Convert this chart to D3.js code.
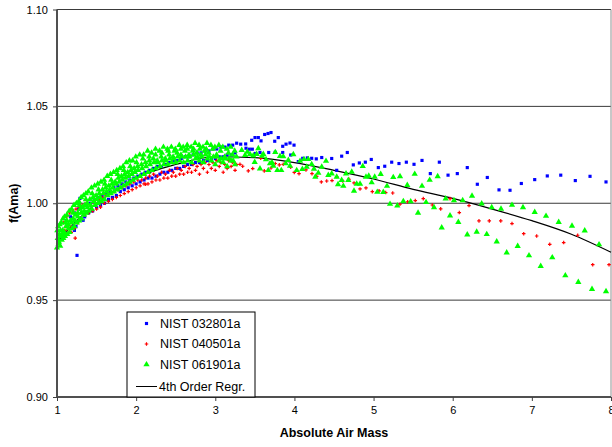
<!DOCTYPE html>
<html><head><meta charset="utf-8">
<script src="https://cdn.jsdelivr.net/npm/d3@7"></script>
<style>body{margin:0;background:#fff}svg{display:block;font-family:"Liberation Sans",Arial,sans-serif}</style>
</head><body><svg id="c" width="612" height="447"></svg>
<script>
const xTicks = [1,2,3,4,5,6,7,8];
const yTicks = [0.90,0.95,1.00,1.05,1.10];
const seriesNames = ["NIST 032801a","NIST 040501a","NIST 061901a","4th Order Regr."];
const xTitle = "Absolute Air Mass";
const yTitle = "f(Ama)";

const blue = [
[1.10,0.985],[1.12,0.991],[1.15,0.987],[1.17,0.993],[1.20,0.988],[1.22,0.995],[1.25,0.990],[1.27,0.997],
[1.30,0.992],[1.32,0.998],[1.35,0.993],[1.37,0.999],[1.40,0.995],[1.42,1.000],[1.45,0.996],[1.47,1.002],
[1.50,0.998],[1.52,1.003],[1.55,0.999],[1.57,1.004],[1.60,1.000],[1.62,1.005],[1.65,1.002],[1.67,1.006],
[1.70,1.003],[1.72,1.008],[1.75,1.004],[1.77,1.009],[1.80,1.006],[1.82,1.010],[1.85,1.007],[1.87,1.011],
[1.90,1.008],[1.92,1.012],[1.95,1.009],[1.97,1.013],[2.00,1.010],[2.02,1.014],[2.05,1.011],[2.07,1.015],
[2.10,1.012],[2.12,1.016],[2.15,1.013],[2.17,1.017],[2.20,1.013],[2.22,1.018],[2.25,1.014],[2.27,1.019],
[2.30,1.015],[2.32,1.019],[2.35,1.016],[2.37,1.020],[2.40,1.016],[2.42,1.021],[2.45,1.017],[2.47,1.022],
[2.50,1.018],[2.52,1.022],[2.55,1.018],[2.57,1.023],[2.60,1.019],[2.62,1.024],[2.65,1.020],[2.67,1.024],
[2.70,1.020],[2.72,1.025],[2.75,1.021],[2.77,1.026],[2.80,1.021],[2.82,1.026],[2.85,1.022],[2.87,1.027],
[2.90,1.022],[2.92,1.027],[2.95,1.023],[2.97,1.028],[3.00,1.023],[3.02,1.028],[3.05,1.024],[3.07,1.029],
[3.10,1.024],[3.12,1.029],[3.15,1.025],[3.17,1.030],[3.20,1.025],[3.22,1.030],[3.25,1.026],[3.27,1.031],
[1.253,0.9731],[1.29,1.0025],[1.33,0.9912],[1.22,0.986],[1.24,0.988],
[3.321,1.0305],[3.384,1.0306],[3.460,1.0325],[3.502,1.0339],[3.544,1.0339],[3.578,1.0322],[3.624,1.0355],
[3.666,1.0360],[3.704,1.0365],[3.751,1.0320],[3.796,1.0339],[3.852,1.0294],[3.894,1.0305],[3.944,1.0311],
[3.995,1.0300],[3.388,1.0284],[3.430,1.0279],[3.468,1.0279],[3.506,1.0257],[3.565,1.0262],[3.675,1.0262],
[3.758,1.0263],[3.852,1.0262],[3.953,1.0249],[4.049,1.0215],[4.105,1.0232],[4.163,1.0234],[4.218,1.0232],
[4.276,1.0229],[4.345,1.0236],[4.471,1.0231],[4.534,1.0170],[4.597,1.0243],[4.668,1.0262],[4.744,1.0198],
[4.820,1.0208],[4.896,1.0212],[4.971,1.0226],[5.060,1.0184],[5.141,1.0191],[5.229,1.0212],[5.321,1.0205],
[5.414,1.0212],[5.511,1.0201],[5.612,1.0221],[5.717,1.0153],[5.831,1.0212],[5.941,1.0145],[6.058,1.0153],
[6.184,1.0184],[6.311,1.0098],[6.437,1.0133],[6.585,1.0069],[6.724,1.0067],[6.867,1.0102],[7.036,1.0122],
[7.195,1.0141],[7.365,1.0145],[7.549,1.0117],[7.735,1.0139],[7.937,1.0110]
];

const red = [
[1.06,0.984],[1.08,0.990],[1.10,0.986],[1.12,0.993],[1.14,0.985],[1.16,0.995],[1.18,0.988],[1.20,0.996],
[1.22,0.987],[1.24,0.997],[1.26,0.990],[1.28,0.998],[1.30,0.992],[1.32,0.999],[1.35,0.994],[1.37,1.000],
[1.40,0.995],[1.42,0.999],[1.45,0.996],[1.47,1.001],[1.50,0.997],[1.52,1.002],[1.55,0.998],[1.57,1.003],
[1.60,1.000],[1.62,1.004],[1.65,1.001],[1.67,1.005],[1.70,1.002],[1.72,1.006],[1.75,1.003],[1.77,1.007],
[1.80,1.004],[1.82,1.008],[1.85,1.005],[1.87,1.009],[1.90,1.006],[1.92,1.010],[1.95,1.007],[1.97,1.011],
[2.00,1.008],[2.02,1.012],[2.05,1.009],[2.07,1.012],[2.10,1.010],[2.12,1.013],[2.15,1.010],[2.17,1.014],
[2.20,1.011],[2.22,1.015],[2.25,1.012],[2.27,1.014],[2.30,1.012],[2.32,1.016],[2.35,1.013],[2.37,1.015],
[2.40,1.013],[2.42,1.017],[2.45,1.014],[2.47,1.016],[2.50,1.014],[2.52,1.018],[2.55,1.015],[2.57,1.017],
[2.60,1.015],[2.62,1.019],[2.65,1.016],[2.67,1.018],[2.70,1.016],[2.72,1.020],[2.75,1.017],[2.77,1.019],
[2.80,1.015],[2.82,1.020],[2.85,1.018],[2.87,1.021],[2.90,1.016],[2.92,1.020],[2.95,1.018],[2.97,1.021],
[3.00,1.017],[3.02,1.022],[3.05,1.019],[3.07,1.021],[3.10,1.016],[3.12,1.020],[3.15,1.018],[3.17,1.022],
[3.20,1.019],[3.22,1.021],[3.25,1.017],[3.27,1.020],[1.23,0.982],[1.18,0.985],[2.12,1.0098],
[3.312,1.0201],[3.346,1.0191],[3.417,1.0167],[3.473,1.0179],[3.574,1.0232],[3.619,1.0167],[3.704,1.0182],
[3.758,1.0205],[3.809,1.0198],[3.859,1.0201],[3.953,1.0186],[3.998,1.0159],[4.058,1.0153],[4.146,1.0172],
[4.222,1.0153],[4.281,1.0139],[4.340,1.0110],[4.408,1.0115],[4.475,1.0117],[4.534,1.0138],[4.610,1.0115],
[4.690,1.0124],[4.753,1.0105],[4.829,1.0074],[4.904,1.0079],[4.984,1.0060],[5.069,1.0064],[5.153,1.0055],
[5.242,1.0053],[5.334,0.9995],[5.431,1.0007],[5.527,1.0014],[5.628,1.0024],[5.742,0.9991],[5.848,0.9971],
[5.966,1.0024],[6.083,0.9952],[6.206,0.9988],[6.332,0.9909],[6.462,0.9909],[6.607,0.9909],[6.749,0.9895],
[6.897,0.9843],[7.061,0.9831],[7.226,0.9788],[7.402,0.9797],[7.579,0.9835],[7.769,0.9683],[7.975,0.9683]
];

const green = [
[1.00,0.977],[1.01,0.982],[1.005,0.986],[1.02,0.979],[1.03,0.984],[1.015,0.988],
[1.04,0.978],[1.05,0.983],[1.035,0.989],[1.06,0.981],[1.072,0.986],[1.055,0.990],
[1.08,0.982],[1.092,0.985],[1.075,0.992],[1.10,0.983],[1.113,0.988],[1.095,0.993],
[1.13,0.984],[1.143,0.989],[1.125,0.994],[1.16,0.985],[1.172,0.991],[1.155,0.996],
[1.19,0.987],[1.203,0.992],[1.185,0.997],[1.22,0.988],[1.234,0.994],[1.215,0.999],
[1.25,0.990],[1.262,0.995],[1.245,1.000],[1.28,0.991],[1.293,0.997],[1.275,1.001],
[1.31,0.992],[1.324,0.998],[1.305,1.003],[1.34,0.994],[1.352,0.999],[1.335,1.004],
[1.37,0.995],[1.383,1.000],[1.365,1.005],[1.40,0.996],[1.415,1.002],[1.395,1.006],
[1.44,0.997],[1.455,1.003],[1.435,1.008],[1.48,0.999],[1.494,1.004],[1.475,1.009],
[1.52,1.000],[1.534,1.005],[1.515,1.010],[1.56,1.001],[1.575,1.007],[1.555,1.011],
[1.60,1.002],[1.615,1.008],[1.595,1.012],[1.64,1.004],[1.655,1.009],[1.635,1.014],
[1.68,1.005],[1.694,1.010],[1.675,1.015],[1.72,1.006],[1.735,1.011],[1.715,1.016],
[1.76,1.007],[1.775,1.013],[1.755,1.017],[1.80,1.008],[1.815,1.014],[1.795,1.018],
[1.84,1.009],[1.855,1.015],[1.835,1.019],[1.88,1.010],[1.894,1.016],[1.875,1.021],
[1.92,1.011],[1.935,1.017],[1.915,1.022],[1.96,1.012],[1.975,1.018],[1.955,1.022],
[2.00,1.013],[2.018,1.019],[1.995,1.024],[2.05,1.014],[2.068,1.020],[2.045,1.025],
[2.10,1.015],[2.118,1.021],[2.095,1.025],[2.15,1.016],[2.167,1.022],[2.145,1.027],
[2.20,1.017],[2.218,1.023],[2.195,1.026],[2.25,1.018],[2.266,1.022],[2.245,1.028],
[2.30,1.019],[2.317,1.024],[2.295,1.027],[2.35,1.020],[2.368,1.023],[2.345,1.029],
[2.40,1.020],[2.416,1.025],[2.395,1.028],[2.45,1.021],[2.467,1.024],[2.445,1.029],
[2.50,1.021],[2.518,1.026],[2.495,1.028],[2.55,1.022],[2.566,1.025],[2.545,1.030],
[2.60,1.021],[2.617,1.027],[2.595,1.029],[2.65,1.022],[2.668,1.025],[2.645,1.030],
[2.70,1.021],[2.716,1.027],[2.695,1.029],[2.75,1.023],[2.767,1.026],[2.745,1.031],
[2.80,1.022],[2.818,1.025],[2.795,1.030],[2.85,1.021],[2.866,1.027],[2.845,1.029],
[2.90,1.023],[2.917,1.026],[2.895,1.031],[2.95,1.022],[2.968,1.028],[2.945,1.030],
[3.00,1.020],[3.016,1.025],[2.995,1.029],[3.05,1.022],[3.067,1.027],[3.045,1.030],
[3.10,1.021],[3.118,1.024],[3.095,1.029],[3.15,1.019],[3.166,1.026],[3.145,1.028],
[3.20,1.022],[3.217,1.025],[3.195,1.029],[3.25,1.020],[3.268,1.024],[3.245,1.027],
[1.025,0.980],[1.065,0.984],[1.105,0.990],[1.145,0.987],[1.185,0.990],[1.225,0.991],[1.265,0.993],[1.305,0.995],
[1.345,0.996],[1.385,0.998],[1.425,0.999],[1.465,1.001],[1.505,1.002],[1.545,1.003],[1.585,1.005],[1.625,1.006],
[1.665,1.007],[1.705,1.008],[1.745,1.010],[1.785,1.011],[1.825,1.012],[1.865,1.013],[1.905,1.014],[1.945,1.015],
[1.985,1.016],[2.025,1.017],[2.075,1.018],[2.125,1.019],[2.175,1.020],[2.225,1.021],[2.275,1.021],[2.325,1.022],
[2.375,1.022],[2.425,1.023],[2.475,1.023],[2.525,1.024],[2.575,1.024],[2.625,1.024],[2.675,1.024],[2.725,1.025],
[2.775,1.024],[2.825,1.024],[2.875,1.025],[2.925,1.024],[2.975,1.024],[3.025,1.024],[3.075,1.023],[3.125,1.023],
[3.175,1.023],[3.225,1.022],
[1.045,0.986],[1.125,0.991],[1.205,0.995],[1.285,0.999],[1.365,1.002],[1.445,1.005],[1.525,1.007],[1.605,1.010],
[1.685,1.012],[1.765,1.015],[1.845,1.017],[1.925,1.019],[2.005,1.021],[2.085,1.023],[2.165,1.024],[2.245,1.025],
[2.325,1.026],[2.405,1.027],[2.485,1.027],[2.565,1.028],[2.645,1.028],[2.725,1.028],[2.805,1.028],[2.885,1.028],
[3.334,1.0274],[3.376,1.0248],[3.405,1.0265],[3.439,1.0253],[3.480,1.0246],[3.498,1.0212],[3.523,1.0253],[3.544,1.0283],
[3.565,1.0179],[3.590,1.0244],[3.607,1.0253],[3.641,1.0226],[3.670,1.0170],[3.691,1.0205],[3.717,1.0210],[3.733,1.0193],
[3.758,1.0263],[3.784,1.0170],[3.818,1.0243],[3.834,1.0170],[3.859,1.0241],[3.890,1.0205],[3.923,1.0222],[3.944,1.0193],
[3.986,1.0252],[4.029,1.0170],[4.071,1.0218],[4.100,1.0176],[4.121,1.0227],[4.155,1.0188],[4.175,1.0227],[4.218,1.0201],
[4.247,1.0177],[4.264,1.0136],[4.302,1.0157],[4.345,1.0188],[4.399,1.0218],[4.428,1.0145],[4.471,1.0153],[4.534,1.0136],
[4.551,1.0097],[4.597,1.0119],[4.652,1.0153],[4.681,1.0119],[4.724,1.0162],[4.618,1.0089],[4.753,1.0064],[4.787,1.0100],
[4.829,1.0100],[4.863,1.0191],[4.904,1.0136],[4.939,1.0141],[4.976,1.0107],[5.014,1.0136],[5.047,1.0058],[5.090,1.0150],
[5.123,1.0057],[5.170,1.0089],[5.208,0.9996],[5.249,1.0134],[5.300,0.9988],[5.334,1.0139],[5.376,1.0010],[5.426,1.0093],
[5.469,1.0009],[5.520,1.0151],[5.562,0.9950],[5.612,1.0089],[5.663,1.0005],[5.709,1.0120],[5.764,0.9979],[5.810,1.0139],
[5.861,0.9874],[5.911,1.0024],[5.966,0.9936],[6.016,1.0015],[6.071,0.9902],[6.126,1.0015],[6.184,0.9838],
[6.244,1.0038],[6.366,0.9998],[6.493,0.9979],[6.610,0.9971],[6.749,0.9991],[6.888,0.9979],[7.036,0.9954],[7.179,0.9934],
[7.339,0.9902],[7.507,0.9883],[7.668,0.9859],[7.849,0.9787],[6.303,0.9852],[6.430,0.9840],[6.556,0.9802],[6.682,0.9745],
[6.821,0.9779],[6.964,0.9730],[7.112,0.9675],[7.258,0.9720],[7.423,0.9627],[7.587,0.9593],[7.760,0.9557],[7.937,0.9545]
];

// trendline
const regrX = [1.0,1.25,1.5,1.75,2.0,2.5,3.0,3.5,4.0,4.5,5.0,5.5,6.0,6.5,7.0,7.5,8.0];
const regrY = [0.980,0.991,1.000,1.007,1.013,1.020,1.024,1.0235,1.021,1.017,1.0125,1.0072,1.0025,0.997,0.991,0.984,0.9747];

const svg = d3.select("#c");
const L=57, R=611, T=9.5, B=397;
const x = d3.scaleLinear().domain([1,8]).range([L,R]);
const y = d3.scaleLinear().domain([0.9,1.1]).range([B,T]);

svg.append("g").selectAll("line").data(yTicks.filter(v=>v>0.9)).join("line")
  .attr("x1",L).attr("x2",R).attr("y1",d=>y(d)).attr("y2",d=>y(d))
  .attr("stroke","#3a3a3a").attr("stroke-width",1);
svg.append("line").attr("x1",R).attr("x2",R).attr("y1",T).attr("y2",B).attr("stroke","#909090").attr("stroke-width",1);

const plot = svg.append("g");
const line = d3.line().x(d=>x(d[0])).y(d=>y(d[1])).curve(d3.curveMonotoneX);
plot.append("path").datum(regrX.map((v,i)=>[v,regrY[i]])).attr("d",line)
  .attr("fill","none").attr("stroke","#000").attr("stroke-width",1.2);

const sq = d3.symbol().type(d3.symbolSquare).size(10);
const cr = d3.symbol().type(d3.symbolCross).size(7);
const tri = d3.symbol().type(d3.symbolTriangle).size(17);
plot.append("g").selectAll("path").data(blue).join("path").attr("d",sq)
  .attr("transform",d=>`translate(${x(d[0])},${y(d[1])})`).attr("fill","#0000ff");
plot.append("g").selectAll("path").data(red).join("path").attr("d",cr)
  .attr("transform",d=>`translate(${x(d[0])},${y(d[1])})`).attr("fill","#ff0000");
plot.append("g").selectAll("path").data(green).join("path").attr("d",tri)
  .attr("transform",d=>`translate(${x(d[0])},${y(d[1])})`).attr("fill","#00ff00");

const yAxis = svg.append("g").attr("transform",`translate(${L},0)`)
  .call(d3.axisLeft(y).tickValues(yTicks).tickFormat(d3.format(".2f")).tickSize(4).tickPadding(5));
const xAxis = svg.append("g").attr("transform",`translate(0,${B})`)
  .call(d3.axisBottom(x).tickValues(xTicks).tickFormat(d3.format("d")).tickSize(4).tickPadding(5));
[yAxis,xAxis].forEach(a=>{
  a.select(".domain").attr("stroke","#505050").attr("stroke-width",2);
  a.selectAll(".tick line").attr("stroke","#404040");
  a.selectAll("text").attr("font-size",11).attr("fill","#000").attr("font-family","Liberation Sans, Arial, sans-serif");
});
yAxis.select(".domain").attr("d",`M0,${B}V${T}`);
xAxis.select(".domain").attr("d",`M${L},0H${R}`);

svg.append("text").attr("x",(L+R)/2).attr("y",437).attr("text-anchor","middle")
  .attr("font-size",12.5).attr("font-weight","bold").text(xTitle);
svg.append("text").attr("transform",`translate(18,${(T+B)/2}) rotate(-90)`).attr("text-anchor","middle")
  .attr("font-size",12.5).attr("font-weight","bold").text(yTitle);

const lg = svg.append("g");
lg.append("rect").attr("x",127).attr("y",312).attr("width",128).attr("height",85)
  .attr("fill","#fff").attr("stroke","#000").attr("stroke-width",1);
const rows=[323.5,344,364.5,386.5];
const syms=[sq,cr,tri];
const cols=["#0000ff","#ff0000","#00ff00"];
seriesNames.forEach((n,i)=>{
  if(i<3){
    lg.append("path").attr("d",syms[i]).attr("transform",`translate(146.5,${rows[i]})`).attr("fill",cols[i]);
    lg.append("text").attr("x",160).attr("y",rows[i]).attr("dy","0.35em").attr("font-size",12.5).text(n);
  } else {
    lg.append("line").attr("x1",136).attr("x2",157).attr("y1",rows[i]).attr("y2",rows[i]).attr("stroke","#000").attr("stroke-width",1);
    lg.append("text").attr("x",159).attr("y",rows[i]).attr("dy","0.35em").attr("font-size",12.5).text(n);
  }
});
</script></body></html>
